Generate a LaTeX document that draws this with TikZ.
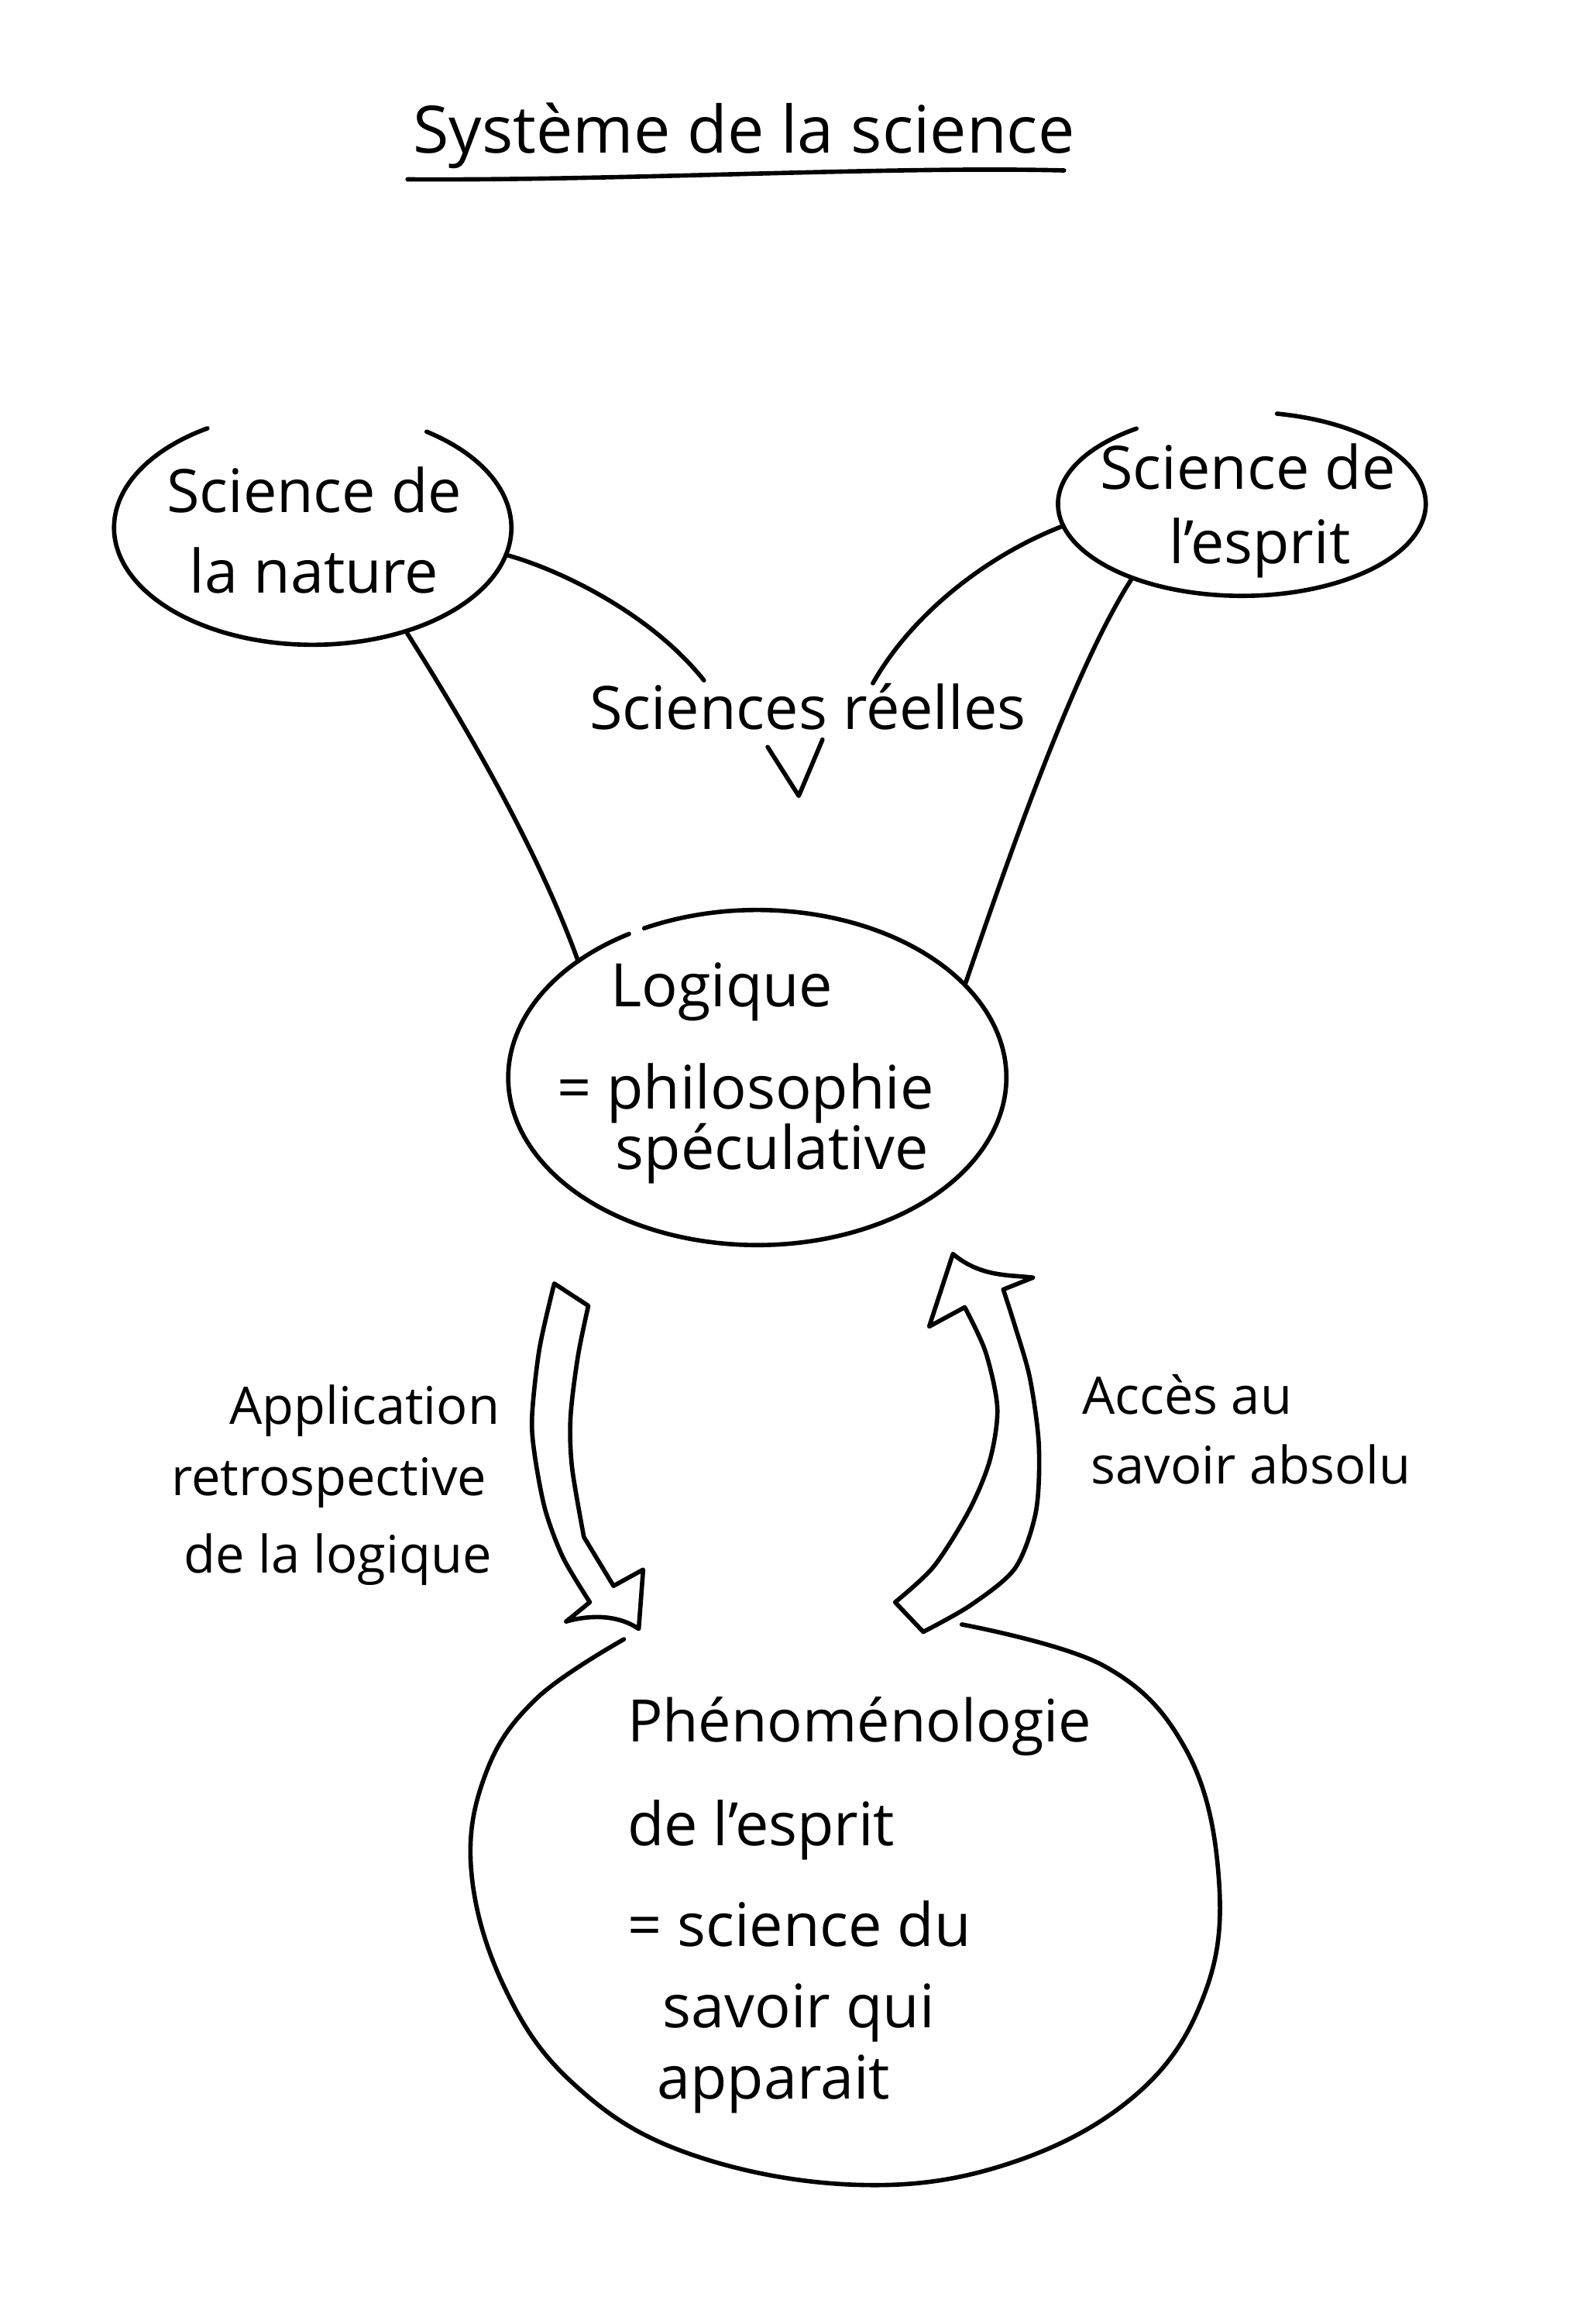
\documentclass[tikz,border=0pt]{standalone}
\usepackage{fontspec}
\setmainfont{Open Sans}
\usetikzlibrary{shapes.geometric}
\begin{document}
\begin{tikzpicture}[x=0.019126cm, y=-0.019126cm,
  ink/.style={line width=1.6pt, line cap=round, line join=round, draw=black},
  blob/.style={shape=ellipse, inner sep=0pt, outer sep=0pt},
  hand/.style={font=\fontsize{22}{28}\selectfont, inner sep=0pt, anchor=base},
  handw/.style={font=\fontsize{22}{28}\selectfont, inner sep=0pt, anchor=base west},
  side/.style={font=\fontsize{19}{24}\selectfont, inner sep=0pt, anchor=base},
  sidew/.style={font=\fontsize{19}{24}\selectfont, inner sep=0pt, anchor=base west}]
\useasboundingbox (0,0) rectangle (1064,1568);
\fill[white] (0,0) rectangle (1064,1568);

% title
\node[hand, font=\fontsize{24}{28}\selectfont] (title) at (502,103) {Système de la science};
\draw[ink] (275,121) .. controls (420,122) and (600,112) .. (718,115);

% ellipse anchors
\node[blob, minimum width=5.126cm, minimum height=3.022cm] (nat) at (211,356) {};
\node[blob, minimum width=4.744cm, minimum height=2.372cm] (esp) at (838,340) {};
\node[blob, minimum width=6.426cm, minimum height=4.322cm] (log) at (511,727) {};

% hand-drawn outlines (with the small gaps of the original)
\draw[ink] (nat.center) ++(55:2.563cm and 1.511cm)
  arc[start angle=55, end angle=-238, x radius=2.563cm, y radius=1.511cm];
\draw[ink] (esp.center) ++(79:2.372cm and 1.186cm)
  arc[start angle=79, end angle=-235, x radius=2.372cm, y radius=1.186cm];
\draw[ink] (log.center) ++(117:3.213cm and 2.161cm)
  arc[start angle=117, end angle=-239, x radius=3.213cm, y radius=2.161cm];
\draw[ink] plot[smooth, tension=0.65] coordinates {(649,1096) (745,1124) (800,1180) (822,1262) (814,1342) (768,1412) (680,1460) (576,1474) (462,1452) (386,1405) (340,1340) (318,1262) (328,1196) (362,1146) (421,1106)};

% texts
\node[hand] (nat1) at (212,346) {Science de};
\node[hand] (nat2) at (212,400) {la nature};
\node[hand] (esp1) at (842,330) {Science de};
\node[hand] (esp2) at (850,380) {l'esprit};
\node[hand] (sr) at (545,492) {Sciences réelles};
\node[hand] (log1) at (487,679) {Logique};
\node[hand] (log2) at (503,748) {= philosophie};
\node[hand] (log3) at (521,789) {spéculative};
\node[handw, font=\fontsize{21.5}{28}\selectfont] (phe1) at (423,1175) {Phénoménologie};
\node[handw] (phe2) at (423,1245) {de l'esprit};
\node[handw] (phe3) at (423,1313) {= science du};
\node[handw] (phe4) at (447,1368) {savoir qui};
\node[handw] (phe5) at (443,1416) {apparait};
\node[side] (app1) at (246,961) {Application};
\node[side] (app2) at (222,1009) {retrospective};
\node[side] (app3) at (228,1061) {de la logique};
\node[sidew] (acc1) at (730,954) {Accès au};
\node[sidew] (acc2) at (736,1001) {savoir absolu};

% connectors
\coordinate (slend) at (475,459);
\coordinate (srend) at (589,461);
\draw[ink] (nat.-48) .. controls (305,475) and (360,565) .. (log.147);
\draw[ink] (esp.214) .. controls (725,450) and (680,580) .. (log.24);
\draw[ink] (nat.-8) .. controls (380,385) and (440,415) .. (slend);
\draw[ink] (srend) .. controls (615,415) and (665,375) .. (esp.187);

% V mark
\coordinate (v1) at (518,504);
\coordinate (v2) at (539,537);
\coordinate (v3) at (555,499);
\draw[ink] (v1) -- (v2) -- (v3);

% hollow arrow down (application)
\draw[ink] (374,866) -- (397,881)
  -- plot[smooth] coordinates {(397,881) (390,915) (385,956) (386,990) (394,1037)}
  -- (414,1070) -- (434,1059) -- (431,1099)
  .. controls (418,1090) and (400,1089) .. (382,1094) -- (398,1081)
  -- plot[smooth] coordinates {(398,1081) (380,1051) (368,1019) (361,983) (359,956) (364,910) (374,866)}
  -- cycle;

% hollow arrow up (acces)
\draw[ink] (643,846) .. controls (662,862) and (682,860) .. (697,862) -- (677,870)
  -- plot[smooth] coordinates {(677,870) (685,895) (695,930) (701,975) (699,1020) (685,1058) (655,1083) (623,1101)}
  -- (604,1081)
  -- plot[smooth] coordinates {(604,1081) (630,1057) (654,1019) (668,985) (673,950) (665,912) (651,882)}
  -- (627,895) -- cycle;
\end{tikzpicture}
\end{document}
